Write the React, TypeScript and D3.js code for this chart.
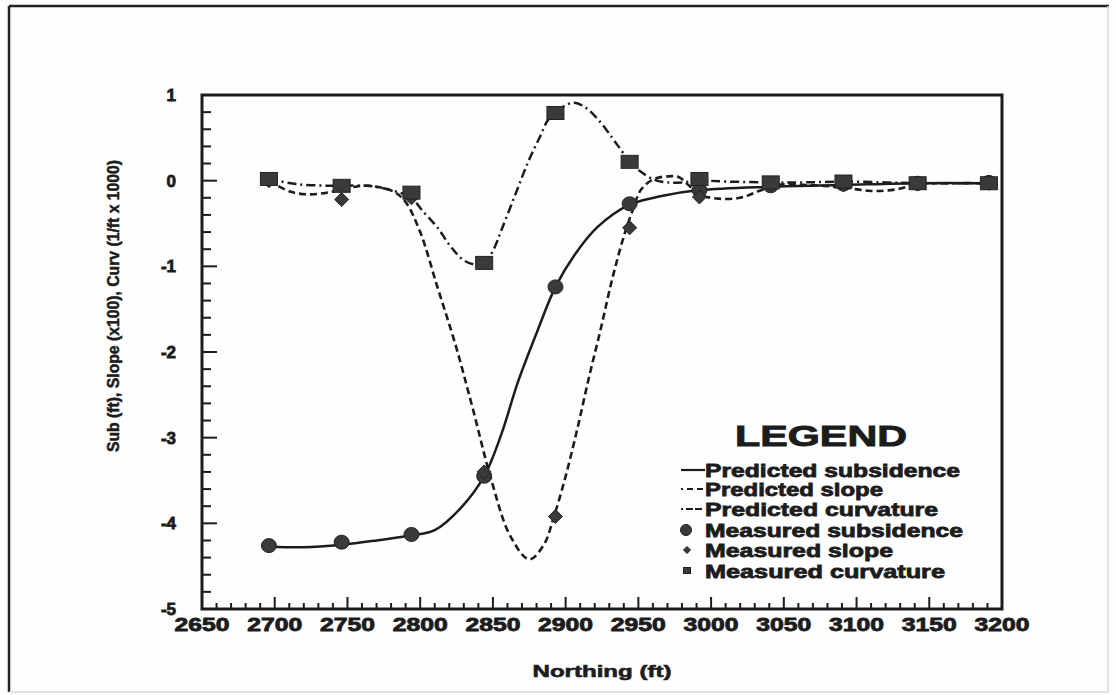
import React from "react";
import * as d3 from "d3";

// ---- Data ----
const measX = [2696, 2746, 2794, 2844, 2893, 2944, 2992, 3041, 3091, 3142, 3191];
const measSub = [-4.26, -4.22, -4.13, -3.45, -1.24, -0.27, -0.11, -0.06, -0.04, -0.03, -0.02];
const measSlope = [0.0, -0.22, -0.2, -3.4, -3.92, -0.55, -0.19, -0.05, -0.05, -0.04, -0.03];
const measCurv = [0.02, -0.06, -0.14, -0.96, 0.79, 0.22, 0.02, -0.02, -0.01, -0.03, -0.03];

const predSubX = [2696, 2720, 2746, 2770, 2794, 2810, 2828, 2844, 2856, 2867, 2880, 2893, 2906, 2922, 2944, 2966, 2992, 3041, 3091, 3142, 3191];
const predSub = [-4.27, -4.28, -4.25, -4.2, -4.14, -4.08, -3.82, -3.45, -2.95, -2.36, -1.78, -1.24, -0.87, -0.54, -0.28, -0.18, -0.11, -0.07, -0.05, -0.03, -0.03];

const predSlopeX = [2696, 2711, 2725, 2739, 2752, 2765, 2782, 2790, 2800, 2812, 2824, 2836, 2849, 2862, 2875, 2885, 2892, 2900, 2908, 2916, 2924, 2932, 2940, 2946, 2952, 2961, 2970, 2978, 2985, 2992, 3005, 3020, 3033, 3045, 3065, 3091, 3110, 3128, 3142, 3165, 3191];
const predSlope = [0.0, -0.13, -0.16, -0.13, -0.08, -0.06, -0.13, -0.25, -0.6, -1.25, -1.9, -2.65, -3.5, -4.15, -4.42, -4.25, -3.92, -3.45, -2.9, -2.3, -1.74, -1.15, -0.65, -0.35, -0.1, 0.02, 0.05, 0.04, -0.06, -0.16, -0.21, -0.2, -0.12, -0.05, -0.05, -0.08, -0.12, -0.1, -0.04, -0.03, -0.03];

const predCurvX = [2696, 2715, 2740, 2764, 2782, 2794, 2801, 2812, 2821, 2830, 2838, 2844, 2850, 2856, 2865, 2874, 2882, 2888, 2893, 2900, 2906, 2914, 2924, 2932, 2938, 2944, 2952, 2961, 2970, 2980, 2992, 3010, 3041, 3065, 3091, 3120, 3142, 3191];
const predCurv = [0.02, -0.04, -0.06, -0.06, -0.12, -0.2, -0.34, -0.55, -0.77, -0.93, -0.98, -0.96, -0.82, -0.57, -0.18, 0.21, 0.5, 0.71, 0.79, 0.88, 0.91, 0.85, 0.68, 0.5, 0.36, 0.22, 0.1, 0.01, -0.02, -0.02, 0.0, -0.01, -0.02, -0.02, -0.01, -0.02, -0.03, -0.03];

const xTicks = [2650, 2700, 2750, 2800, 2850, 2900, 2950, 3000, 3050, 3100, 3150, 3200];
const yTicks = [1, 0, -1, -2, -3, -4, -5];

const legendTitle = "LEGEND";
const legendItems = [
  "Predicted subsidence",
  "Predicted slope",
  "Predicted curvature",
  "Measured subsidence",
  "Measured slope",
  "Measured curvature",
];
const legendWidths = [255, 178, 233, 258, 188, 240];

const yTitle = "Sub (ft), Slope (x100), Curv (1/ft x 1000)";
const xTitle = "Northing (ft)";

// ---- Layout ----
const W = 1116;
const H = 695;
const FONT = "'Liberation Sans', Arial, Helvetica, sans-serif";
const INK = "#1c1c1c";
const MARK = "#3a3a3a";

export default function App() {
  const x = d3.scaleLinear().domain([2650, 3200]).range([202, 1002]);
  const y = d3.scaleLinear().domain([-5, 1]).range([609, 95]);

  const mkLine = (xs: number[], ys: number[]) =>
    d3
      .line<number>()
      .x((_, i) => x(xs[i]))
      .y((v) => y(v))
      .curve(d3.curveCatmullRom.alpha(0.5))(ys) || "";

  const xMinor = d3.range(2650, 3200.1, 10);
  const yMinor = d3.range(-5, 1.001, 0.2);

  const diamond = "M0,-7L7,0L0,7L-7,0Z";
  const diamondSmall = "M0,-3.5L3.5,0L0,3.5L-3.5,0Z";

  const [x0, x1] = x.range();
  const [yb, yt] = y.range();

  const legendX = 705;
  const legendBase = [477, 496, 516, 537, 557, 578];

  return (
    <svg
      width={W}
      height={H}
      style={{ position: "absolute", left: 0, top: 0, background: "#fefefe" }}
      fontFamily={FONT}
    >
      <rect x={0} y={0} width={W} height={H} fill="#fefefe" />
      {/* outer figure border */}
      <line x1={9} y1={6} x2={1109} y2={6} stroke="#222" strokeWidth={2.5} />
      <line x1={9} y1={6} x2={9} y2={692} stroke="#222" strokeWidth={2.5} />
      <line x1={1108} y1={6} x2={1108} y2={692} stroke="#d8d8d8" strokeWidth={1.5} />
      <line x1={9} y1={692} x2={1109} y2={692} stroke="#d8d8d8" strokeWidth={1.5} />

      {/* minor ticks */}
      {xMinor.map((v, i) => {
        const major = Math.abs(((v - 2650) % 50)) < 0.01;
        return (
          <line
            key={"xm" + i}
            x1={x(v)}
            x2={x(v)}
            y1={yb}
            y2={yb - (major ? 12 : 6)}
            stroke={INK}
            strokeWidth={2}
          />
        );
      })}
      {yMinor.map((v, i) => {
        const major = Math.abs(v - Math.round(v)) < 0.01;
        return (
          <line
            key={"ym" + i}
            x1={x0}
            x2={x0 + (major ? 15 : 9)}
            y1={y(v)}
            y2={y(v)}
            stroke={INK}
            strokeWidth={2}
          />
        );
      })}

      {/* frame */}
      <rect
        x={x0}
        y={yt}
        width={x1 - x0}
        height={yb - yt}
        fill="none"
        stroke={INK}
        strokeWidth={3}
      />

      {/* tick labels */}
      {xTicks.map((v) => (
        <text
          key={"xt" + v}
          x={x(v)}
          y={631}
          textAnchor="middle"
          fontSize={18}
          fontWeight="bold"
          fill={INK}
          stroke={INK}
          strokeWidth={0.8}
          textLength={55}
          lengthAdjust="spacingAndGlyphs"
        >
          {v}
        </text>
      ))}
      {yTicks.map((v) => (
        <text
          key={"yt" + v}
          x={176}
          y={y(v) + 6}
          textAnchor="end"
          fontSize={17}
          fontWeight="bold"
          fill={INK}
          stroke={INK}
          strokeWidth={0.8}
        >
          {v}
        </text>
      ))}

      {/* axis titles */}
      <text
        x={602}
        y={677}
        textAnchor="middle"
        fontSize={17}
        fontWeight="bold"
        fill={INK}
        stroke={INK}
        strokeWidth={0.6}
        textLength={139}
        lengthAdjust="spacingAndGlyphs"
      >
        {xTitle}
      </text>
      <text
        transform="translate(119,306) rotate(-90)"
        textAnchor="middle"
        fontSize={16}
        fontWeight="bold"
        fill={INK}
        stroke={INK}
        strokeWidth={0.5}
        textLength={292}
        lengthAdjust="spacingAndGlyphs"
      >
        {yTitle}
      </text>

      {/* predicted curves */}
      <path d={mkLine(predSubX, predSub)} fill="none" stroke={INK} strokeWidth={2.5} />
      <path
        d={mkLine(predSlopeX, predSlope)}
        fill="none"
        stroke={INK}
        strokeWidth={2.6}
        strokeDasharray="7,4"
      />
      <path
        d={mkLine(predCurvX, predCurv)}
        fill="none"
        stroke={INK}
        strokeWidth={2.5}
        strokeDasharray="9,4,2,4"
      />

      {/* measured points */}
      {measX.map((v, i) => (
        <ellipse
          key={"ms" + i}
          cx={x(v)}
          cy={y(measSub[i])}
          rx={7.5}
          ry={7}
          fill={MARK}
          stroke="#222"
          strokeWidth={1}
        />
      ))}
      {measX.map((v, i) => (
        <path
          key={"msl" + i}
          d={diamond}
          transform={`translate(${x(v)},${y(measSlope[i])})`}
          fill={MARK}
          stroke="#222"
          strokeWidth={1}
        />
      ))}
      {measX.map((v, i) => (
        <rect
          key={"mc" + i}
          x={x(v) - 8.5}
          y={y(measCurv[i]) - 6.5}
          width={17}
          height={13}
          fill={MARK}
          stroke="#222"
          strokeWidth={1}
        />
      ))}

      {/* legend */}
      <text
        x={735}
        y={446}
        fontSize={30}
        fontWeight="bold"
        fill={INK}
        stroke={INK}
        strokeWidth={0.9}
        textLength={172}
        lengthAdjust="spacingAndGlyphs"
      >
        {legendTitle}
      </text>
      {legendItems.map((t, i) => (
        <text
          key={"lg" + i}
          x={legendX}
          y={legendBase[i]}
          fontSize={19}
          fontWeight="bold"
          fill={INK}
          stroke={INK}
          strokeWidth={0.8}
          textLength={legendWidths[i]}
          lengthAdjust="spacingAndGlyphs"
        >
          {t}
        </text>
      ))}
      {/* legend samples */}
      <line x1={681} x2={705} y1={470} y2={470} stroke={INK} strokeWidth={2.2} />
      <line x1={681} x2={704} y1={489} y2={489} stroke={INK} strokeWidth={2.2} strokeDasharray="2,4,6,4,6" />
      <line x1={681} x2={704} y1={509} y2={509} stroke={INK} strokeWidth={2.2} strokeDasharray="2,3,7,2,7" />
      <circle cx={686} cy={530} r={5.5} fill={MARK} stroke="#222" strokeWidth={1} />
      <path d={diamondSmall} transform="translate(687,550)" fill={MARK} stroke="#222" strokeWidth={1} />
      <rect x={683.5} y={567.5} width={7} height={6} fill={MARK} stroke="#222" strokeWidth={1} />
    </svg>
  );
}
